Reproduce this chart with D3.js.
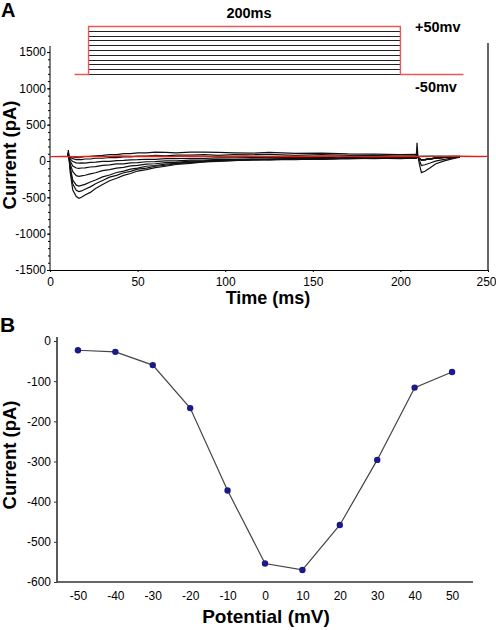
<!DOCTYPE html>
<html><head><meta charset="utf-8">
<script src="https://cdn.jsdelivr.net/npm/d3@7/dist/d3.min.js"></script>
<style>
html,body{margin:0;padding:0;background:#fff;}
svg{display:block;font-family:"Liberation Sans",Arial,Helvetica,sans-serif;}
</style></head>
<body>
<svg id="chart" width="496" height="630"></svg>
<script>
// ---------- Panel A data ----------
const timeTicks = [0, 50, 100, 150, 200, 250];
const currentTicksA = [-1500, -1000, -500, 0, 500, 1000, 1500];
const protocolLevels = [-50, -40, -30, -20, -10, 0, 10, 20, 30, 40, 50];
const protocolTimes = [14, 22, 200, 236]; // baseline start, step on, step off, baseline end
const traceTimes = [10,10.5,11.5,13,15,16.5,18,20,23,26,30,34,38,42,46,50,55,60,66,72,80,88,96,105,115,125,140,155,170,185,200,209];
const trace1 = [60,150,-150,-400,-490,-512,-498,-468,-432,-378,-322,-272,-238,-198,-172,-138,-118,-92,-72,-48,-32,-12,-6,8,12,22,20,32,28,38,32,42];
const trace2 = [60,120,-100,-318,-402,-420,-412,-388,-356,-312,-268,-222,-198,-162,-142,-112,-98,-72,-58,-38,-22,-8,2,8,18,16,28,26,38,32,42,38];
const trace3 = [60,110,-80,-262,-332,-346,-336,-322,-288,-262,-218,-192,-158,-138,-112,-98,-72,-62,-42,-32,-12,-8,8,6,18,22,28,26,38,36,44,40];
const trace4 = [60,100,-40,-148,-202,-212,-204,-196,-178,-162,-132,-118,-98,-88,-68,-60,-42,-38,-22,-18,-2,2,12,12,22,20,32,28,38,36,44,42];
const trace5 = [60,90,0,-68,-96,-102,-96,-94,-82,-78,-60,-54,-40,-38,-26,-22,-10,-8,2,2,12,12,22,18,28,26,36,32,42,38,46,44];
const trace6 = [60,80,30,-8,-26,-30,-26,-28,-18,-16,-6,-4,6,8,16,18,24,22,32,32,38,36,42,42,48,46,52,48,56,52,56,54];
const trace7 = [60,70,50,32,18,22,20,28,28,38,38,48,46,58,56,68,66,78,72,82,82,88,78,88,86,92,78,88,78,78,68,72];
const trace8 = [60,65,60,56,48,52,54,62,62,72,78,88,88,102,102,112,112,122,118,112,122,122,118,112,108,118,106,108,98,96,88,92];
const tailTimes = [209,209.5,210,211,212,214,217,220,225,230,234];
const tail1 = [42,250,60,-60,-160,-140,-92,-40,2,32,52];
const tail2 = [38,120,60,0,-62,-52,-28,-2,22,42,56];
const tailFlat = [40,70,50,30,14,18,30,40,50,56,60];
const cyanTimes = [211, 218, 226, 234];
const cyanValues = [66, 70, 66, 68];
const redTimes = [0,8,16,24,32,40,50,60,70,80,90,100,112,124,136,148,160,172,184,196,208,220,232,244,250];
const redValues = [60,64,58,66,60,68,62,66,60,70,64,62,68,60,66,62,68,64,60,66,62,64,66,62,64];

// ---------- Panel B data ----------
const potentials = [-50, -40, -30, -20, -10, 0, 10, 20, 30, 40, 50];
const peakCurrents = [-23, -27, -60, -167, -372, -554, -570, -458, -296, -116, -77];
const currentTicksB = [0, -100, -200, -300, -400, -500, -600];

const fmt = d => String(d);   // plain hyphen minus as in the reference
const svg = d3.select("#chart");

// ================= Panel A =================
const xA = d3.scaleLinear().domain([0, 250]).range([50, 488]);
const yA = d3.scaleLinear().domain([-1500, 1583]).range([270, 46]);
const yP = d3.scaleLinear().domain([-50, 50]).range([74, 26]);

const gA = svg.append("g");
gA.append("g").attr("transform", "translate(50,0)")
  .call(d3.axisLeft(yA).tickValues(d3.range(-1500, 1501, 100)).tickSize(2).tickFormat(""))
  .call(g => g.select(".domain").remove())
  .selectAll("line").attr("stroke", "#000");
const axYA = gA.append("g").attr("transform", "translate(50,0)")
  .call(d3.axisLeft(yA).tickValues(currentTicksA).tickSize(3).tickPadding(1).tickFormat(fmt));
axYA.select(".domain").attr("d", `M0,${yA(1583)}V${yA(-1500)}`);
axYA.selectAll("text").attr("font-size", 12).attr("fill", "#000");

const axXA = gA.append("g").attr("transform", "translate(0,270)")
  .call(d3.axisBottom(xA).tickValues(timeTicks).tickSize(2).tickPadding(5).tickFormat(fmt));
axXA.selectAll("text").attr("font-size", 12).attr("fill", "#000")
  .filter(d => d === 250).attr("text-anchor", "end").attr("dx", 8);
gA.append("line").attr("x1", xA(250)).attr("x2", xA(250)).attr("y1", 43).attr("y2", 270)
  .attr("stroke", "#000").attr("stroke-width", 1.2);

// protocol inset
protocolLevels.forEach(v => {
  gA.append("line").attr("x1", xA(protocolTimes[1])).attr("x2", xA(protocolTimes[2]))
    .attr("y1", Math.round(yP(v)) + 0.5).attr("y2", Math.round(yP(v)) + 0.5)
    .attr("stroke", "#222").attr("stroke-width", 1);
});
const protoPath = d3.line().x(d => xA(d[0])).y(d => Math.round(yP(d[1])) + 0.5);
gA.append("path").attr("d", protoPath([
  [protocolTimes[0], -50], [protocolTimes[1], -50], [protocolTimes[1], 50],
  [protocolTimes[2], 50], [protocolTimes[2], -50], [protocolTimes[3], -50]
])).attr("fill", "none").attr("stroke", "#e8585a").attr("stroke-width", 1.4);

// traces
const tLine = d3.line().x(d => xA(d[0])).y(d => yA(d[1]));
const traces = [
  [trace8, tailFlat], [trace7, tailFlat], [trace6, tailFlat], [trace5, tailFlat],
  [trace4, tailFlat], [trace3, tailFlat], [trace2, tail2], [trace1, tail1]
];
traces.forEach(([tr, tail]) => {
  const pts = traceTimes.map((t, i) => [t, tr[i]]).concat(tailTimes.slice(1).map((t, i) => [t, tail[i + 1]]));
  gA.append("path").attr("d", tLine(pts)).attr("fill", "none")
    .attr("stroke", "#111").attr("stroke-width", 1.2);
});
gA.append("path").attr("d", tLine(cyanTimes.map((t, i) => [t, cyanValues[i]])))
  .attr("fill", "none").attr("stroke", "#2a9a9a").attr("stroke-width", 1.6);
gA.append("path").attr("d", tLine(redTimes.map((t, i) => [t, redValues[i]])))
  .attr("fill", "none").attr("stroke", "#e0201e").attr("stroke-width", 1.4);

// labels A
svg.append("text").attr("x", 1).attr("y", 17).attr("font-size", 20).attr("font-weight", "bold").text("A");
svg.append("text").attr("x", 249).attr("y", 18).attr("text-anchor", "middle").attr("font-size", 14.5).attr("font-weight", "bold").text("200ms");
svg.append("text").attr("x", 415).attr("y", 32).attr("font-size", 14.5).attr("font-weight", "bold").text("+50mv");
svg.append("text").attr("x", 415).attr("y", 92).attr("font-size", 14.5).attr("font-weight", "bold").text("-50mv");
svg.append("text").attr("x", 268).attr("y", 304).attr("text-anchor", "middle").attr("font-size", 18).attr("font-weight", "bold").text("Time (ms)");
svg.append("text").attr("transform", "translate(16,155) rotate(-90)").attr("text-anchor", "middle")
  .attr("font-size", 18.5).attr("font-weight", "bold").text("Current (pA)");

// ================= Panel B =================
const xB = d3.scaleLinear().domain([-55.6, 55.6]).range([57, 473]);
const yB = d3.scaleLinear().domain([-600, 10]).range([582, 337]);
const gB = svg.append("g");
const axYB = gB.append("g").attr("transform", "translate(57,0)")
  .call(d3.axisLeft(yB).tickValues(currentTicksB).tickSize(3).tickPadding(3).tickFormat(fmt));
axYB.select(".domain").attr("d", `M0,${yB(10)}V${yB(-600)}`).attr("stroke", "#333").attr("stroke-width", 1.6);
axYB.selectAll("line").attr("stroke", "#333");
axYB.selectAll("text").attr("font-size", 12).attr("fill", "#000");
const axXB = gB.append("g").attr("transform", "translate(0,582)")
  .call(d3.axisBottom(xB).tickValues(potentials).tickSize(0).tickPadding(9).tickFormat(fmt));
axXB.select(".domain").attr("d", `M${xB(-55.6)},0H${xB(55.6)}`).attr("stroke", "#333").attr("stroke-width", 1.6);
axXB.selectAll("text").attr("font-size", 12).attr("fill", "#000");

const ivLine = d3.line().x((d, i) => xB(potentials[i])).y(d => yB(d));
gB.append("path").attr("d", ivLine(peakCurrents)).attr("fill", "none").attr("stroke", "#444").attr("stroke-width", 1.2);
gB.selectAll("circle").data(peakCurrents).join("circle")
  .attr("cx", (d, i) => xB(potentials[i])).attr("cy", d => yB(d)).attr("r", 3.2).attr("fill", "#1a1a8a");

svg.append("text").attr("x", 0).attr("y", 332).attr("font-size", 21).attr("font-weight", "bold").text("B");
svg.append("text").attr("x", 266).attr("y", 623).attr("text-anchor", "middle").attr("font-size", 19).attr("font-weight", "bold").text("Potential (mV)");
svg.append("text").attr("transform", "translate(16,455) rotate(-90)").attr("text-anchor", "middle")
  .attr("font-size", 18.5).attr("font-weight", "bold").text("Current (pA)");
</script>
</body></html>
